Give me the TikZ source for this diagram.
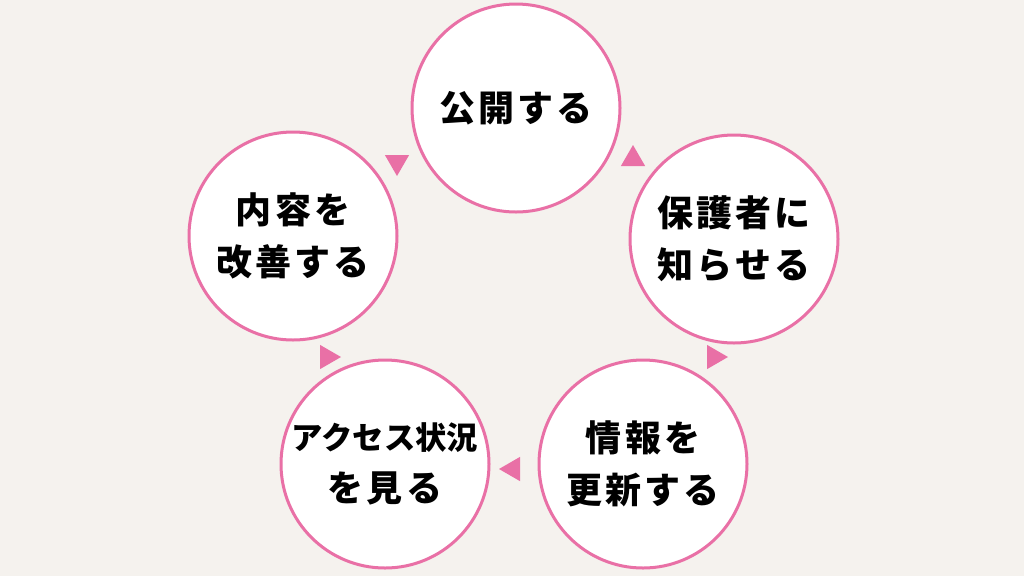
\documentclass[tikz,border=0pt]{standalone}
\usepackage{fontspec}
\usepackage{tikz}
\usetikzlibrary{shapes.geometric}
\newfontfamily\jpfont[LetterSpace=9]{Noto Sans CJK JP}
\definecolor{bgbeige}{HTML}{F5F2EE}
\definecolor{cyclepink}{HTML}{E970A6}
\tikzstyle{stage} = [circle, draw=cyclepink, line width=2.25pt, fill=white, minimum size=156pt, inner sep=0pt, align=center, font=\jpfont\bfseries\fontsize{27}{39}\selectfont]
\tikzstyle{tri} = [regular polygon, regular polygon sides=3, fill=cyclepink, inner sep=0pt, minimum size=21pt]

\begin{document}
\begin{tikzpicture}[x=0.75pt, y=-0.75pt]
      \fill [bgbeige] (0,0) rectangle (1024,576);
      \useasboundingbox (0,0) rectangle (1024,576);

      \node [stage] (publish) at (516,108) {公開する};
      \node [stage] (notify) at (734,239) {保護者に\\知らせる};
      \node [stage] (update) at (643,464) {情報を\\更新する};
      \node [stage] (access) at (385,464) {{\addfontfeature{LetterSpace=0}\fontsize{23.5}{39}\selectfont アクセス状況}\\を見る};
      \node [stage] (improve) at (293,236) {内容を\\改善する};

      \node [tri, shape border rotate=180] (tri1) at (397,162) {};
      \node [tri] (tri2) at (633,159) {};
      \node [tri, shape border rotate=-90] (tri3) at (714,357) {};
      \node [tri, shape border rotate=90] (tri4) at (513,469) {};
      \node [tri, shape border rotate=-90] (tri5) at (327,357) {};
    \end{tikzpicture}
\end{document}
